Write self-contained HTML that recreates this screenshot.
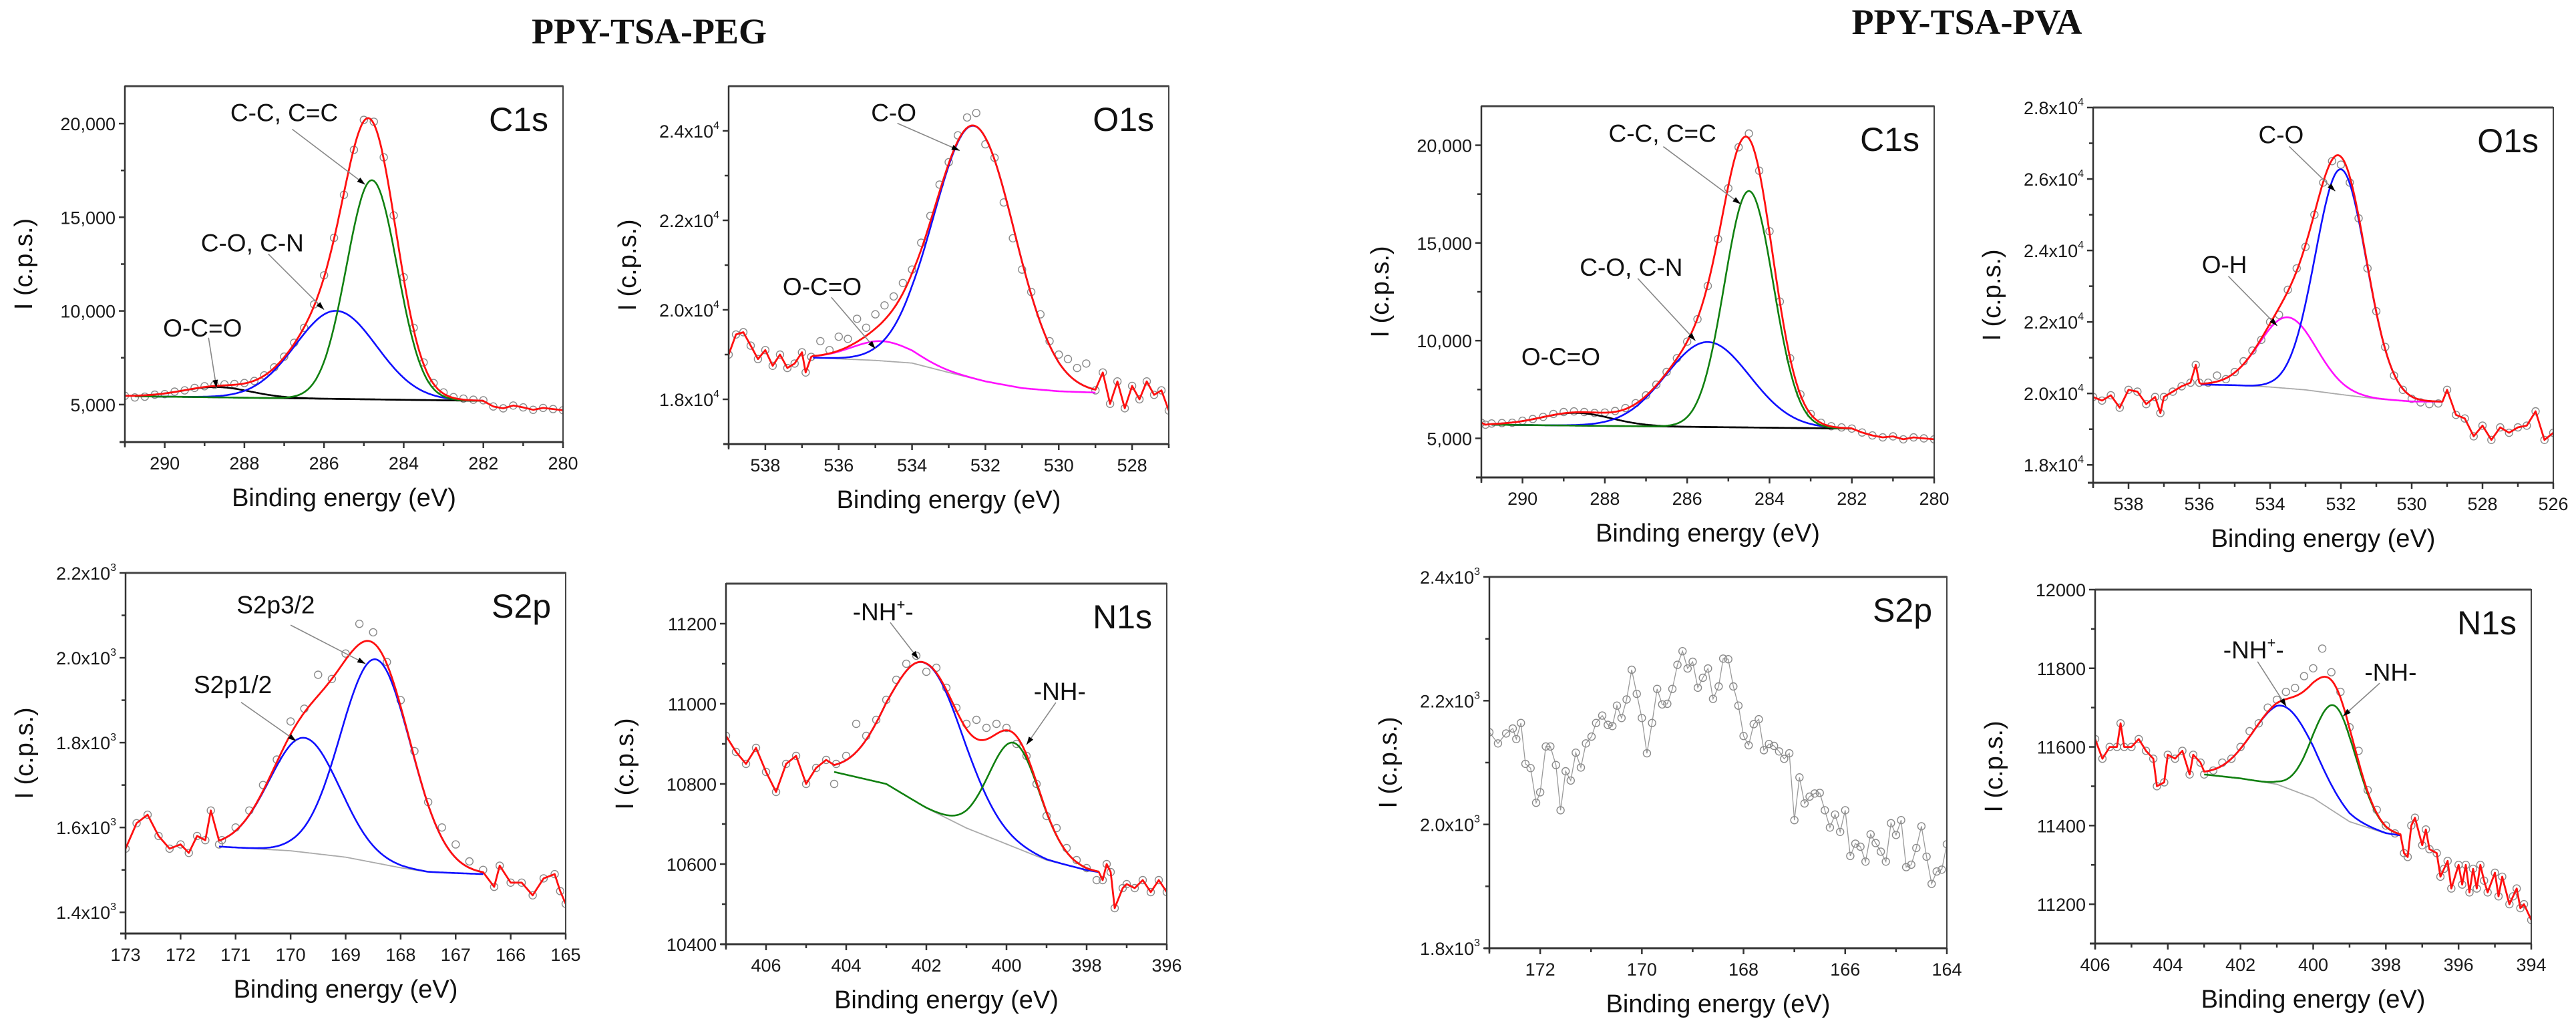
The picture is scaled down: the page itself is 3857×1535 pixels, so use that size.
<!DOCTYPE html>
<html><head><meta charset="utf-8"><title>XPS spectra PPY-TSA-PEG / PPY-TSA-PVA</title>
<style>html,body{margin:0;padding:0;background:#fff;}svg{display:block;font-family:"Liberation Sans",Arial,sans-serif;}</style>
</head><body>
<svg id="fig" xmlns="http://www.w3.org/2000/svg" width="3857" height="1535" viewBox="0 0 3857 1535">
<rect x="0" y="0" width="3857" height="1535" fill="#fff"/>
<text x="972" y="65" text-anchor="middle" font-family="Liberation Serif, serif" font-weight="bold" font-size="54" fill="#111">PPY-TSA-PEG</text>
<text x="2945" y="51" text-anchor="middle" font-family="Liberation Serif, serif" font-weight="bold" font-size="54" fill="#111">PPY-TSA-PVA</text>
</svg>
<script>
// ---------------- PEG C1s ----------------
const pegC1sX = [291,290.75,290.5,290.25,290,289.75,289.5,289.25,289,288.75,288.5,288.25,288,287.75,287.5,287.25,287,286.75,286.5,286.25,286,285.75,285.5,285.25,285,284.75,284.5,284.25,284,283.75,283.5,283.25,283,282.75,282.5,282.25,282,281.75,281.5,281.25,281,280.75,280.5,280.25,280];
const pegC1sY = [5470,5380,5420,5530,5560,5690,5760,5890,5980,6050,6080,6100,6150,6260,6560,6990,7560,8300,9100,10350,11900,13900,16200,18600,20200,20100,18200,15100,11800,9100,7250,6150,5650,5400,5320,5260,5230,4900,4800,4950,4850,4720,4820,4760,4700];
const pegC1sBgX = [290.75,282];
const pegC1sBgY = [5445,5200];
const pegC1sCenters = [288.7,285.7,284.8];
const pegC1sHeights = [550,4700,11700];
const pegC1sWidths = [2.0,2.4,1.5];
// ---------------- PEG O1s ----------------
const pegO1sX = [539,538.8,538.6,538.4,538.2,538,537.8,537.6,537.4,537.2,537,536.9,536.75,536.5,536.25,536,535.75,535.5,535.25,535,534.75,534.5,534.25,534,533.75,533.5,533.25,533,532.75,532.5,532.25,532,531.75,531.5,531.25,531,530.75,530.5,530.25,530,529.75,529.5,529.25,529,528.8,528.6,528.4,528.2,528,527.8,527.6,527.4,527.2,527];
const pegO1sY = [19000,19450,19500,19200,18900,19100,18750,19000,18700,18800,19050,18600,18950,19300,19100,19400,19350,19800,19600,19900,20100,20300,20600,20900,21500,22100,22800,23300,23900,24300,24400,23700,23400,22400,21600,20900,20400,19900,19300,19000,18900,18700,18800,18200,18600,17900,18400,17800,18300,18000,18400,18100,18200,17750];
const pegO1sBgX = [536.7,535,534,533,532,531,530,529];
const pegO1sBgY = [18930,18870,18810,18600,18400,18250,18180,18150];
const pegO1sCenters = [534.8,532.3];
const pegO1sHeights = [440,5650];
const pegO1sWidths = [2.0,2.6];
// ---------------- PEG S2p ----------------
const pegS2pX = [173,172.8,172.6,172.4,172.2,172,171.85,171.7,171.55,171.45,171.3,171.25,171,170.75,170.5,170.25,170,169.75,169.5,169.25,169,168.75,168.5,168.25,168,167.75,167.5,167.25,167,166.75,166.5,166.3,166.2,166,165.8,165.6,165.4,165.2,165.1,165];
const pegS2pY = [1550,1610,1630,1580,1550,1560,1540,1580,1570,1640,1560,1570,1600,1640,1700,1760,1850,1880,1960,1950,2010,2080,2060,1990,1900,1780,1660,1600,1560,1520,1500,1460,1510,1470,1470,1440,1480,1490,1450,1420];
const pegS2pBgX = [171.3,170,169,168,167.5,166.5];
const pegS2pBgY = [1555,1545,1530,1505,1495,1490];
const pegS2pCenters = [169.75,168.45];
const pegS2pHeights = [270,480];
const pegS2pWidths = [1.5,1.5];
// ---------------- PEG N1s ----------------
const pegN1sX = [407,406.75,406.5,406.25,406,405.75,405.5,405.25,405,404.75,404.5,404.3,404.25,404,403.75,403.5,403.25,403,402.75,402.5,402.25,402,401.75,401.5,401.25,401,400.75,400.5,400.25,400,399.75,399.5,399.25,399,398.75,398.5,398.25,398,397.75,397.6,397.5,397.4,397.3,397.1,397,396.8,396.6,396.4,396.2,396];
const pegN1sY = [10920,10880,10850,10890,10830,10780,10850,10870,10800,10840,10860,10800,10850,10870,10950,10920,10960,11010,11060,11100,11120,11080,11090,11040,10990,10950,10960,10940,10950,10940,10900,10870,10800,10720,10690,10640,10610,10590,10560,10560,10600,10580,10490,10540,10550,10540,10560,10530,10560,10530];
const pegN1sBgX = [404.3,403,402,401,400,399,398,397.7];
const pegN1sBgY = [10830,10800,10740,10690,10650,10610,10585,10580];
const pegN1sCenters = [402.0,399.8];
const pegN1sHeights = [360,260];
const pegN1sWidths = [2.2,1.5];
// ---------------- PVA C1s ----------------
const pvaC1sX = [291,290.9,290.75,290.5,290.25,290,289.75,289.5,289.25,289,288.75,288.5,288.25,288,287.75,287.5,287.25,287,286.75,286.5,286.25,286,285.75,285.5,285.25,285,284.75,284.5,284.25,284,283.75,283.5,283.25,283,282.75,282.5,282.25,282,281.75,281.5,281.25,281,280.75,280.5,280.25,280];
const pvaC1sY = [5800,5700,5760,5780,5800,5900,5990,6100,6250,6350,6380,6350,6300,6320,6400,6550,6800,7200,7750,8400,9100,9950,11100,12800,15200,17800,19900,20600,18700,15600,12000,9100,7250,6250,5800,5620,5560,5500,5300,5150,5050,5100,4950,5050,5000,4950];
const pvaC1sBgX = [290.75,282];
const pvaC1sBgY = [5700,5500];
const pvaC1sCenters = [288.7,285.5,284.5];
const pvaC1sHeights = [650,4350,12100];
const pvaC1sWidths = [2.0,2.4,1.4];
// ---------------- PVA O1s ----------------
const pvaO1sX = [539,538.75,538.5,538.25,538,537.75,537.5,537.25,537.1,537,536.75,536.5,536.25,536.1,536,535.75,535.5,535.25,535,534.75,534.5,534.25,534,533.75,533.5,533.25,533,532.75,532.5,532.25,532,531.75,531.5,531.25,531,530.75,530.5,530.25,530,529.75,529.5,529.25,529,528.75,528.5,528.25,528,527.75,527.5,527.25,527,526.75,526.5,526.25,526];
const pvaO1sY = [19900,19800,19950,19600,20100,20050,19700,19900,19450,19900,20050,20200,20300,20800,20300,20300,20500,20400,20600,20900,21200,21500,22000,22200,22900,23500,24100,25000,25900,26500,26400,25900,24900,23500,22300,21300,20500,20100,19850,19750,19700,19720,20100,19400,19300,18800,19100,18700,19050,18900,19050,19100,19500,18700,18900];
const pvaO1sBgX = [535.95,535,534,533,532,531,530,529.13];
const pvaO1sBgY = [20250,20230,20180,20100,19970,19850,19775,19770];
const pvaO1sCenters = [533.5,532.0];
const pvaO1sHeights = [1990,6300];
const pvaO1sWidths = [1.9,1.7];
// ---------------- PVA S2p (raw data only) ----------------
const pvaS2pX = [173,172.83,172.67,172.54,172.47,172.38,172.29,172.19,172.08,172,171.89,171.8,171.69,171.6,171.5,171.4,171.3,171.2,171.1,170.99,170.9,170.78,170.67,170.58,170.49,170.4,170.3,170.2,170.1,170,169.9,169.8,169.7,169.6,169.5,169.4,169.3,169.2,169.1,169,168.9,168.8,168.7,168.6,168.49,168.4,168.3,168.2,168.1,168,167.9,167.8,167.7,167.6,167.5,167.4,167.3,167.2,167.1,167,166.9,166.8,166.7,166.6,166.5,166.4,166.3,166.2,166.1,166,165.9,165.8,165.7,165.6,165.5,165.4,165.3,165.2,165.1,165,164.9,164.8,164.7,164.6,164.5,164.4,164.3,164.2,164.1,164];
const pvaS2pY = [2149,2131,2147,2155,2138,2164,2098,2091,2035,2052,2126,2126,2096,2023,2086,2071,2116,2092,2131,2142,2164,2176,2161,2159,2192,2172,2202,2250,2211,2172,2115,2164,2219,2194,2195,2219,2258,2280,2252,2263,2221,2237,2252,2203,2223,2268,2267,2223,2192,2143,2128,2162,2170,2120,2130,2127,2118,2106,2115,2007,2076,2034,2045,2050,2051,2023,1995,2016,1988,2023,1949,1969,1964,1940,1984,1970,1956,1940,2002,1983,2007,1931,1935,1962,1997,1948,1904,1924,1927,1968];
// ---------------- PVA N1s ----------------
const pvaN1sX = [406,405.8,405.6,405.4,405.3,405.2,405,404.8,404.6,404.4,404.3,404.1,404,403.8,403.6,403.4,403.3,403.1,403,402.75,402.5,402.25,402,401.75,401.5,401.25,401,400.75,400.5,400.25,400,399.75,399.5,399.25,399,398.75,398.5,398.25,398,397.75,397.5,397.4,397.3,397.2,397,396.9,396.8,396.6,396.5,396.4,396.3,396.2,396,395.9,395.8,395.7,395.6,395.5,395.4,395.3,395.2,395,394.9,394.8,394.6,394.5,394.4,394.3,394.2,394];
const pvaN1sY = [11620,11570,11600,11600,11660,11600,11600,11620,11590,11570,11500,11510,11580,11570,11590,11530,11580,11560,11530,11540,11560,11570,11600,11640,11660,11700,11720,11740,11750,11780,11800,11850,11790,11740,11650,11590,11490,11440,11400,11380,11330,11320,11400,11420,11350,11390,11340,11330,11270,11290,11310,11240,11300,11250,11300,11230,11290,11240,11300,11260,11230,11280,11220,11270,11200,11220,11240,11190,11200,11160];
const pvaN1sBgX = [403,402,401,400,399,398,397.6];
const pvaN1sBgY = [11530,11520,11505,11470,11410,11380,11375];
const pvaN1sCenters = [400.8,399.4];
const pvaN1sHeights = [205,270];
const pvaN1sWidths = [2.0,1.4];
// ---------------- tick arrays ----------------
const c1sYTicks = [5000,10000,15000,20000];
const c1sYLabels = ["5,000","10,000","15,000","20,000"];
const pegO1sYTicks = [18000,20000,22000,24000];
const pegO1sYLabels = ["1.8x10|4","2.0x10|4","2.2x10|4","2.4x10|4"];
const pegS2pYTicks = [1400,1600,1800,2000,2200];
const pegS2pYLabels = ["1.4x10|3","1.6x10|3","1.8x10|3","2.0x10|3","2.2x10|3"];
const pegN1sYTicks = [10400,10600,10800,11000,11200];
const pegN1sYLabels = ["10400","10600","10800","11000","11200"];
const pvaO1sYTicks = [18000,20000,22000,24000,26000,28000];
const pvaO1sYLabels = ["1.8x10|4","2.0x10|4","2.2x10|4","2.4x10|4","2.6x10|4","2.8x10|4"];
const pvaS2pYTicks = [1800,2000,2200,2400];
const pvaS2pYLabels = ["1.8x10|3","2.0x10|3","2.2x10|3","2.4x10|3"];
const pvaN1sYTicks = [11200,11400,11600,11800,12000];
const pvaN1sYLabels = ["11200","11400","11600","11800","12000"];
const c1sXTicks = [290,288,286,284,282,280];
const pegO1sXTicks = [538,536,534,532,530,528];
const pegS2pXTicks = [173,172,171,170,169,168,167,166,165];
const pegN1sXTicks = [406,404,402,400,398,396];
const pvaO1sXTicks = [538,536,534,532,530,528,526];
const pvaS2pXTicks = [172,170,168,166,164];
const pvaN1sXTicks = [406,404,402,400,398,396,394];

const NS = "http://www.w3.org/2000/svg";
const svg = document.getElementById('fig');
function mk(tag, attrs, parent){ const e=document.createElementNS(NS,tag); for(const k in attrs) e.setAttribute(k,attrs[k]); (parent||svg).appendChild(e); return e; }
function gauss(x,c,h,w){ return h*Math.exp(-4*Math.LN2*((x-c)/w)*((x-c)/w)); }
function interp(xs,ys,x){
  for(let i=0;i<xs.length-1;i++){ if(x<=xs[i] && x>=xs[i+1]){ const t=(x-xs[i])/(xs[i+1]-xs[i]); return ys[i]+t*(ys[i+1]-ys[i]); } }
  return x>xs[0]?ys[0]:ys[ys.length-1];
}

function drawPanel(p){
  const g = mk('g',{});
  
  
  const sx = v => p.fx + (p.xmax - v)/(p.xmax - p.xmin)*p.fw;
  const sy = v => p.fy + p.fh - (v - p.ymin)/(p.ymax - p.ymin)*p.fh;
  const clipId = 'clip-'+p.name;
  const cp = mk('clipPath',{id:clipId}, g);
  mk('rect',{x:p.fx,y:p.fy,width:p.fw,height:p.fh}, cp);
  const plot = mk('g',{'clip-path':'url(#'+clipId+')'}, g);
  
  

  // raw data circles (+ connecting line for raw-only panel)
  if(p.connect){
    let d=''; for(let i=0;i<p.x.length;i++) d += (i?'L':'M')+sx(p.x[i]).toFixed(1)+','+sy(p.y[i]).toFixed(1);
    const pl = mk('path',{d:d,fill:'none',stroke:'#999','stroke-width':1.3}, plot);
    
    
  }
  for(let i=0;i<p.x.length;i++){
    const c = mk('circle',{cx:sx(p.x[i]).toFixed(1),cy:sy(p.y[i]).toFixed(1),r:5.5,fill:'none',stroke:'#8a8a8a','stroke-width':1.4}, plot);
    
    
  }
  if(p.bgX){
    const x0 = p.bgX[0], x1 = p.bgX[p.bgX.length-1];
    const samples=[]; for(let x=x0; x>=x1-1e-9; x-=0.02) samples.push(x);
    const bg = x => interp(p.bgX,p.bgY,x);
    // background
    let d=''; samples.forEach((x,i)=>{ d+=(i?'L':'M')+sx(x).toFixed(1)+','+sy(bg(x)).toFixed(1); });
    const bl = mk('path',{d:d,fill:'none',stroke:p.bgColor,'stroke-width':p.bgColor==='#000'?2.5:1.8}, plot);
    
    
    // components
    for(let k=0;k<p.centers.length;k++){
      let dd=''; samples.forEach((x,i)=>{ dd+=(i?'L':'M')+sx(x).toFixed(1)+','+sy(bg(x)+gauss(x,p.centers[k],p.heights[k],p.widths[k])).toFixed(1); });
      const cl = mk('path',{d:dd,fill:'none',stroke:p.colors[k],'stroke-width':2.6}, plot);
      
      
    }
    // envelope + outside data
    const pts=[];
    for(let i=0;i<p.x.length;i++) if(p.x[i]>x0) pts.push([p.x[i],p.y[i]]);
    samples.forEach(x=>{ let v=bg(x); for(let k=0;k<p.centers.length;k++) v+=gauss(x,p.centers[k],p.heights[k],p.widths[k]); pts.push([x,v]); });
    for(let i=0;i<p.x.length;i++) if(p.x[i]<x1) pts.push([p.x[i],p.y[i]]);
    let de=''; pts.forEach((q,i)=>{ de+=(i?'L':'M')+sx(q[0]).toFixed(1)+','+sy(q[1]).toFixed(1); });
    const el = mk('path',{d:de,fill:'none',stroke:'#ff1010','stroke-width':2.8,'stroke-linejoin':'round'}, plot);
    
    
  }
  // frame
  const fr = mk('rect',{x:p.fx,y:p.fy,width:p.fw,height:p.fh,fill:'none',stroke:'#444','stroke-width':2}, g);
  
  
  const topl = mk('line',{x1:p.fx,y1:p.fy,x2:p.fx+p.fw,y2:p.fy,stroke:'#444','stroke-width':3}, g);
  
  
  const bot = mk('line',{x1:p.fx-8,y1:p.fy+p.fh,x2:p.fx+p.fw,y2:p.fy+p.fh,stroke:'#333','stroke-width':3}, g);
  
  
  const lft = mk('line',{x1:p.fx,y1:p.fy,x2:p.fx,y2:p.fy+p.fh+8,stroke:'#333','stroke-width':2.5}, g);
  
  
  // x ticks
  const xstep = p.xTicks.length>1 ? Math.abs(p.xTicks[0]-p.xTicks[1]) : 1;
  p.xTicks.forEach(v=>{
    const X = sx(v);
    const t = mk('line',{x1:X,y1:p.fy+p.fh,x2:X,y2:p.fy+p.fh+9,stroke:'#333','stroke-width':2.5}, g);
    
    
    const tl = mk('text',{x:X,y:p.fy+p.fh+41,'text-anchor':'middle','font-size':27,fill:'#1a1a1a'}, g);
    tl.textContent = String(v);
    
    
    if(xstep>1){
      const m = v - xstep/2;
      if(m>p.xmin-1e-9 && m<p.xmax+1e-9){
        const mt = mk('line',{x1:sx(m),y1:p.fy+p.fh,x2:sx(m),y2:p.fy+p.fh+6,stroke:'#333','stroke-width':2.5}, g);
        
        
      }
      const m2 = v + xstep/2;
      if(v===p.xTicks[0] && m2<p.xmax+1e-9){
        const mt2 = mk('line',{x1:sx(m2),y1:p.fy+p.fh,x2:sx(m2),y2:p.fy+p.fh+6,stroke:'#333','stroke-width':2.5}, g);
        
        
      }
    }
  });
  // y ticks
  const ystep = Math.abs(p.yTicks[1]-p.yTicks[0]);
  const ym = [];
  for(let i=0;i<p.yTicks.length;i++){ ym.push(p.yTicks[i]+ystep/2); if(i===0) ym.push(p.yTicks[0]-ystep/2); }
  ym.forEach(m=>{ if(m>p.ymin && m<p.ymax){
    const mt = mk('line',{x1:p.fx-6,y1:sy(m),x2:p.fx,y2:sy(m),stroke:'#333','stroke-width':2.5}, g);
    
    
  }});
  p.yTicks.forEach((v,i)=>{
    const Y = sy(v);
    const t = mk('line',{x1:p.fx-9,y1:Y,x2:p.fx,y2:Y,stroke:'#333','stroke-width':2.5}, g);
    
    
    const lab = p.yLabels[i];
    const tl = mk('text',{x:p.fx-14,y:Y+10,'text-anchor':'end','font-size':27,fill:'#1a1a1a'}, g);
    
    
    if(lab.indexOf('|')>=0){
      const parts = lab.split('|');
      tl.appendChild(document.createTextNode(parts[0]));
      const sup = mk('tspan',{dy:-13,'font-size':16}, tl);
      sup.textContent = parts[1];
    } else tl.textContent = lab;
  });
  // axis titles
  const xt = mk('text',{x:p.fx+p.fw/2,y:p.fy+p.fh+96,'text-anchor':'middle','font-size':38,fill:'#111'}, g);
  xt.textContent = 'Binding energy (eV)';
  
  
  const yx = p.fx-152, yy = p.fy+p.fh/2;
  const yt = mk('text',{x:yx,y:yy,'text-anchor':'middle','font-size':38,fill:'#111',transform:'rotate(-90 '+yx+' '+yy+') translate(0 13)'}, g);
  yt.textContent = 'I (c.p.s.)';
  
  
  // panel label
  const pl2 = mk('text',{x:p.fx+p.fw-22,y:p.fy+67,'text-anchor':'end','font-size':50,fill:'#111'}, g);
  pl2.textContent = p.label;
  
  
  // annotations
  (p.ann||[]).forEach(a=>{
    if(a.from){
      const x1=sx(a.from[0]), y1=sy(a.from[1]), x2=sx(a.to[0]), y2=sy(a.to[1]);
      const ln = mk('line',{x1:x1,y1:y1,x2:x2,y2:y2,stroke:'#888','stroke-width':1.6}, g);
      
      
      const ang = Math.atan2(y2-y1,x2-x1), L=12, W=4;
      const bx=x2-L*Math.cos(ang), by=y2-L*Math.sin(ang);
      const hp = mk('polygon',{points:x2+','+y2+' '+(bx-W*Math.sin(ang))+','+(by+W*Math.cos(ang))+' '+(bx+W*Math.sin(ang))+','+(by-W*Math.cos(ang)),fill:'#000'}, g);
      
      
    }
    const at = mk('text',{x:sx(a.at[0]),y:sy(a.at[1])+13,'text-anchor':'middle','font-size':37,fill:'#111'}, g);
    
    
    if(a.sup){
      at.appendChild(document.createTextNode('-NH'));
      const s = mk('tspan',{dy:-16,'font-size':22}, at); s.textContent='+';
      const r = mk('tspan',{dy:16}, at); r.textContent='-';
    } else at.textContent = a.text;
  });
}

const panels = [
 {name:'peg-c1s',label:'C1s',fx:187,fy:129,fw:656,fh:533,xmin:280,xmax:291,ymin:3000,ymax:22000,x:pegC1sX,y:pegC1sY,bgX:pegC1sBgX,bgY:pegC1sBgY,centers:pegC1sCenters,heights:pegC1sHeights,widths:pegC1sWidths,colors:['#000','#1010ff','#108010'],bgColor:'#000',xTicks:c1sXTicks,yTicks:c1sYTicks,yLabels:c1sYLabels,
  ann:[{text:'C-C, C=C',at:[287.0,20600],from:[286.8,19700],to:[284.97,16750]},{text:'C-O, C-N',at:[287.8,13640],from:[287.4,13040],to:[286.0,10070]},{text:'O-C=O',at:[289.05,9100],from:[288.9,8570],to:[288.7,5890]}]},
 {name:'peg-o1s',label:'O1s',fx:1091,fy:129,fw:659,fh:536,xmin:527,xmax:539,ymin:17000,ymax:25000,x:pegO1sX,y:pegO1sY,bgX:pegO1sBgX,bgY:pegO1sBgY,centers:pegO1sCenters,heights:pegO1sHeights,widths:pegO1sWidths,colors:['#ff10ff','#1010ff'],bgColor:'#aaa',xTicks:pegO1sXTicks,yTicks:pegO1sYTicks,yLabels:pegO1sYLabels,
  ann:[{text:'C-O',at:[534.5,24410],from:[534.4,24170],to:[532.7,23560]},{text:'O-C=O',at:[536.45,20520],from:[536.2,20280],to:[535.0,19130]}]},
 {name:'peg-s2p',label:'S2p',fx:188,fy:858,fw:659,fh:540,xmin:165,xmax:173,ymin:1350,ymax:2200,x:pegS2pX,y:pegS2pY,bgX:pegS2pBgX,bgY:pegS2pBgY,centers:pegS2pCenters,heights:pegS2pHeights,widths:pegS2pWidths,colors:['#1010ff','#1010ff'],bgColor:'#aaa',xTicks:pegS2pXTicks,yTicks:pegS2pYTicks,yLabels:pegS2pYLabels,
  ann:[{text:'S2p3/2',at:[170.27,2125],from:[170.0,2077],to:[168.64,1986]},{text:'S2p1/2',at:[171.05,1937],from:[170.9,1895],to:[169.9,1804]}]},
 {name:'peg-n1s',label:'N1s',fx:1087,fy:874,fw:660,fh:540,xmin:396,xmax:407,ymin:10400,ymax:11300,x:pegN1sX,y:pegN1sY,bgX:pegN1sBgX,bgY:pegN1sBgY,centers:pegN1sCenters,heights:pegN1sHeights,widths:pegN1sWidths,colors:['#1010ff','#108010'],bgColor:'#aaa',xTicks:pegN1sXTicks,yTicks:pegN1sYTicks,yLabels:pegN1sYLabels,
  ann:[{sup:true,at:[403.08,11230],from:[402.9,11203],to:[402.2,11112]},{text:'-NH-',at:[398.67,11032],from:[398.77,11003],to:[399.5,10898]}]},
 {name:'pva-c1s',label:'C1s',fx:2218,fy:159,fw:678,fh:556,xmin:280,xmax:291,ymin:3000,ymax:22000,x:pvaC1sX,y:pvaC1sY,bgX:pvaC1sBgX,bgY:pvaC1sBgY,centers:pvaC1sCenters,heights:pvaC1sHeights,widths:pvaC1sWidths,colors:['#000','#1010ff','#108010'],bgColor:'#000',xTicks:c1sXTicks,yTicks:c1sYTicks,yLabels:c1sYLabels,
  ann:[{text:'C-C, C=C',at:[286.6,20616],from:[286.58,19930],to:[284.7,16990]},{text:'C-O, C-N',at:[287.36,13770],from:[287.2,13180],to:[285.8,10000]},{text:'O-C=O',at:[289.07,9180]}]},
 {name:'pva-o1s',label:'O1s',fx:3134,fy:161,fw:689,fh:562,xmin:526,xmax:539,ymin:17500,ymax:28000,x:pvaO1sX,y:pvaO1sY,bgX:pvaO1sBgX,bgY:pvaO1sBgY,centers:pvaO1sCenters,heights:pvaO1sHeights,widths:pvaO1sWidths,colors:['#ff10ff','#1010ff'],bgColor:'#aaa',xTicks:pvaO1sXTicks,yTicks:pvaO1sYTicks,yLabels:pvaO1sYLabels,
  ann:[{text:'C-O',at:[533.69,27245],from:[533.46,26910],to:[532.16,25660]},{text:'O-H',at:[535.29,23610],from:[535.18,23280],to:[533.8,21890]}]},
 {name:'pva-s2p',label:'S2p',fx:2230,fy:864,fw:685,fh:556,xmin:164,xmax:173,ymin:1800,ymax:2400,x:pvaS2pX,y:pvaS2pY,connect:true,xTicks:pvaS2pXTicks,yTicks:pvaS2pYTicks,yLabels:pvaS2pYLabels,ann:[]},
 {name:'pva-n1s',label:'N1s',fx:3137,fy:883,fw:653,fh:530,xmin:394,xmax:406,ymin:11100,ymax:12000,x:pvaN1sX,y:pvaN1sY,bgX:pvaN1sBgX,bgY:pvaN1sBgY,centers:pvaN1sCenters,heights:pvaN1sHeights,widths:pvaN1sWidths,colors:['#1010ff','#108010'],bgColor:'#aaa',xTicks:pvaN1sXTicks,yTicks:pvaN1sYTicks,yLabels:pvaN1sYLabels,
  ann:[{sup:true,at:[401.64,11847],from:[401.53,11817],to:[400.74,11703]},{text:'-NH-',at:[397.87,11790],from:[398.17,11762],to:[399.18,11678]}]}
];
panels.forEach(drawPanel);
</script>
</body></html>
